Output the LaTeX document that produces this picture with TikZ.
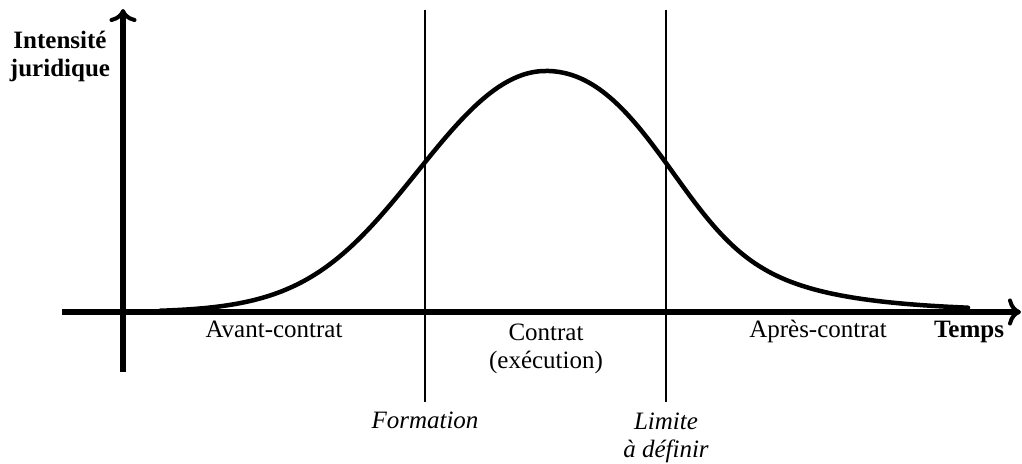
\documentclass[tikz,border=0pt]{standalone}
\usepackage{fontspec}
\setmainfont{Liberation Serif}
\usetikzlibrary{arrows.meta}
\begin{document}
\begin{tikzpicture}[x=1pt,y=-1pt,
  declare function={
    sp(\t)=max(\t,0)+0.3*ln(1+exp(-min(abs(\t),4)/0.3));
    sl(\u)=1.19+0.05*sp(2.2-abs(\u));
    sr(\u)=1.11+0.17*sp(\u-2)+0.2*sp(1.7-\u);
    ss(\u)=(\u<0)*sl(\u)+(\u>=0)*sr(\u);
    hh(\u)=241*exp(-\u*\u/(2*ss(\u)*ss(\u)));},
  axis/.style={line width=6pt,-{Computer Modern Rightarrow[length=13pt,width=27pt,line width=4pt]}},
  limit/.style={line width=1.2pt},
  curve/.style={line width=4.5pt,line cap=round,line join=round},
  lbl/.style={inner sep=0pt,font=\fontsize{25}{28}\selectfont,align=center,anchor=base},
  blbl/.style={lbl,font=\fontsize{25}{28}\selectfont\bfseries},
  ilbl/.style={lbl,font=\fontsize{25}{28}\selectfont\itshape}]
\useasboundingbox (0,0) rectangle (1022,463);
\coordinate (xs) at (62,312);
\coordinate (xe) at (1021,312);
\coordinate (ys) at (123,372);
\coordinate (ye) at (123,9);
\coordinate (f1) at (425,10);
\coordinate (f2) at (425,402);
\coordinate (l1) at (666,10);
\coordinate (l2) at (666,402);
\draw[limit] (f1) -- (f2);
\draw[limit] (l1) -- (l2);
\draw[axis] (xs) -- (xe);
\draw[axis] (ys) -- (ye);
\draw[curve] plot[domain=160:968,samples=240] (\x,{312-hh((\x-546)/100)});
\node[blbl] (yl) at (60,76) {Intensité\\juridique};
\node[blbl] (xl) at (969,337) {Temps};
\node[lbl] (av) at (274,337) {Avant-contrat};
\node[lbl] (ct) at (546,368) {Contrat\\(exécution)};
\node[lbl] (ap) at (818,337) {Après-contrat};
\node[ilbl] (fo) at (425,428) {Formation};
\node[ilbl] (li) at (666,457) {Limite\\à définir};
\end{tikzpicture}
\end{document}
